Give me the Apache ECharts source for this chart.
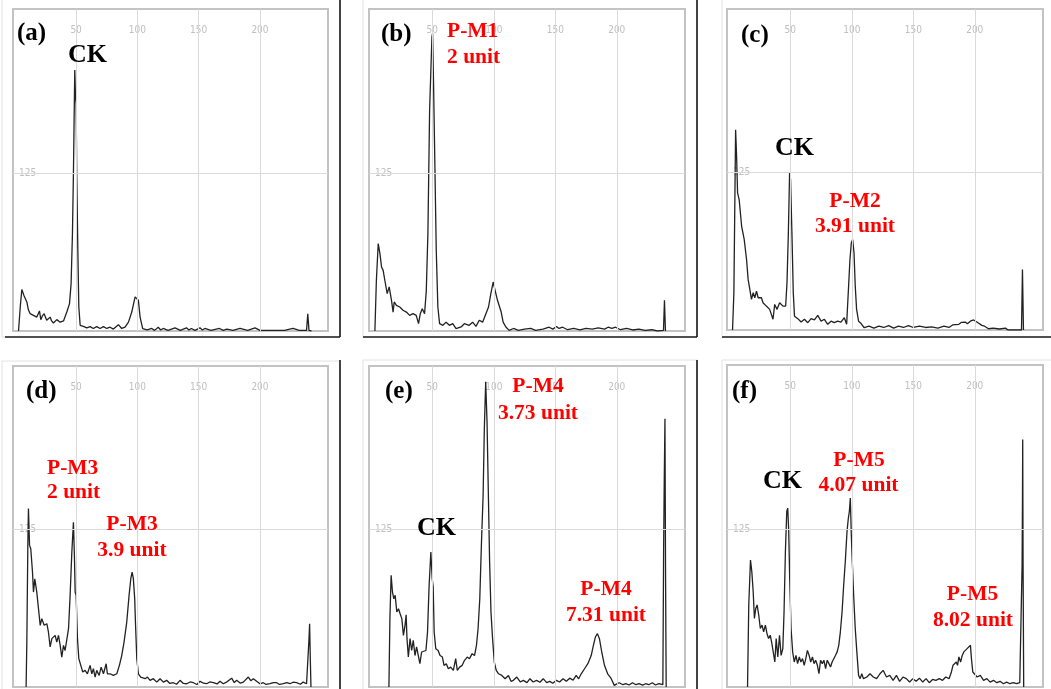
<!DOCTYPE html>
<html>
<head>
<meta charset="utf-8">
<script src="https://cdn.jsdelivr.net/npm/echarts@6/dist/echarts.min.js"></script>
<style>
html,body{margin:0;padding:0;background:#fff;}
#chart{width:1051px;height:689px;}
</style>
</head>
<body>
<div id="chart"></div>
<script>
// ---------- DATA ----------
const xTickLabels = [50, 100, 150, 200];
const yTickLabels = [125];
const panelTags = ['(a)', '(b)', '(c)', '(d)', '(e)', '(f)'];

const traceA = [[3,0],[4.5,20],[5.7,32.8],[7.5,28],[9.8,23],[11,17],[12.5,13.7],[15.2,12.4],[17.9,11],[20.1,15.9],[21.2,9],[22.5,12],[23.9,13.7],[26,8.5],[28.8,11],[30,8],[31.5,6.3],[34.2,9],[37,7],[39.7,8],[42.4,15],[44.6,21.7],[45.9,37.5],[47,77],[47.8,124.7],[48.4,169.6],[48.9,206.6],[49.5,185],[50,180],[50.5,125],[51.4,64],[52.2,19],[53.3,4.5],[56,3.7],[58.7,2.5],[61.4,3.5],[64,2],[66.8,3.5],[69.6,2],[72.3,3.5],[75,2],[77.7,3],[80.4,1.5],[84.5,5],[87.2,2],[89.9,3],[92.7,7],[95.4,15],[98.1,27],[99.5,28.3],[100.8,24.3],[102.2,11],[104.3,1.8],[108,0.8],[111.7,2],[114,0.5],[117,3],[119,0.8],[121,2],[125,0.5],[130.7,2.5],[135,0.5],[140,2.5],[142,0.8],[144,2],[147,0.5],[151,2.5],[153,0.8],[155,2],[160,0.5],[167,2],[170,0.5],[173,1.5],[178,0.5],[183.7,2],[190,0.5],[196,2.5],[200,0.5],[210,0.5],[220,0.5],[227,2],[232,0.5],[238,0.5],[239,13.7],[240,0.5],[242,0]];

const traceB = [[3.3,0],[4.5,40],[6,69.2],[7.4,61.3],[8.7,50.7],[10,48],[11.4,40],[13.3,29.6],[14.9,34.9],[16.8,24.3],[18.1,15],[19,23],[20.8,20.3],[23.5,19],[26.2,16.4],[28.9,15],[31.6,12.4],[34.3,13.7],[36.9,12.4],[38.8,5.8],[40.2,13.7],[41.8,17.7],[43.7,13.7],[45.1,32],[46.4,77],[47.8,175],[48.9,209],[49.7,233],[50.2,235.7],[51,196],[52.1,130],[53.2,64],[54.5,19],[55.9,5.8],[58.6,4.5],[61.2,7],[63.9,4.5],[66.6,5.8],[69.3,1.8],[73.4,3.2],[76,5.8],[80,4.5],[82.8,7],[85.5,3.7],[88.2,8.5],[90.9,7],[93.6,13.7],[95.7,19],[97.6,29.6],[99.5,38.8],[101.1,32],[103,24.3],[104.4,23],[106,15],[107.6,7],[109.8,3.2],[112.5,0.5],[116,2],[120,0.5],[125,1.5],[130,2],[134,0.5],[140,1.5],[145,3],[148,1.5],[151,3.5],[153,2],[156,3],[160,1],[165,2],[170,0.8],[175,2],[180,1.5],[185,2.5],[190,1.5],[193,3],[196,2],[199,3],[203,1],[208,2],[213,0.8],[218,1.5],[223,0.5],[228.6,1],[233,0],[238,0.5],[238.8,24.3],[239.6,0]];

const traceC = [[3,0],[4.1,29.6],[5.5,159],[6.3,138],[7.1,109],[8.4,103.6],[10.4,82.4],[12.5,71.9],[14.4,56],[15.7,40],[17.1,32],[18.4,24.3],[19.8,29.6],[21.1,25.6],[22.5,30.9],[23.8,25.6],[25.2,24.3],[26.5,25.6],[27.8,21.7],[30.5,19],[33.2,16.4],[35.9,8.5],[37.3,20.3],[39.2,16.4],[41.3,21.7],[44,19],[46.2,19],[47.3,37.5],[48.4,77],[49.4,124.7],[50.2,119.4],[51.3,77],[52.4,29.6],[53.4,11],[56.1,9],[58.8,6.3],[61.5,8.5],[64.2,5.8],[66.9,9],[69.6,8],[72.3,11.6],[75,7],[77.7,8.5],[80.4,4.5],[83.1,7],[85.8,5.8],[88.5,7],[91.2,6.3],[93.9,9.8],[95.8,4.5],[97.4,35],[98.5,56],[99.6,69.2],[100.7,71.9],[101.8,61.3],[102.8,35],[103.9,16.4],[105.5,7],[107.4,5.3],[110.1,1.8],[114,3],[118,1.5],[122,3],[126,2],[130,3.5],[134,1.5],[138,3],[142,2],[146,3.5],[150,2],[155,3],[160,2],[165,2.5],[170,1.5],[175,3],[179,2],[182,4],[187,4.5],[189,6],[192.3,6.3],[194,5],[196.4,7],[199,8],[201.7,6.3],[203,7],[205.8,3.7],[208,3],[211.2,1],[215,1.5],[220,0.8],[225,1.5],[227,0],[238,0],[238.8,48],[239.6,0]];

const traceD = [[9.2,0],[9.8,37],[10.6,112.5],[11.1,141.7],[12,112.5],[13,109.8],[14.4,91.3],[15.2,75.4],[16.3,86],[17.9,75.4],[19.3,62.2],[20.7,49],[22,54.3],[23.9,49],[26.1,50.3],[27.4,43.7],[28.8,31.8],[30.2,38.4],[31.5,37],[32.9,41],[34.2,35.7],[35.6,41],[37,33],[38.3,23.8],[39.7,33],[41,29],[42.4,30.4],[43.8,46.3],[45.1,72.8],[46.5,107],[47.8,130.8],[48.6,104.4],[49.2,75.4],[50,72.8],[51.1,38.4],[52.2,22.5],[53.8,17.2],[55.4,11.9],[57.3,13.2],[59.2,10.5],[61.4,17.2],[62.8,10.5],[64.1,14.5],[65.5,7.9],[66.8,13.2],[68.8,9.2],[70.4,15.8],[72.3,10.5],[74.5,18.5],[75.5,10.5],[77.7,10.5],[80.4,9.2],[83.2,10.5],[85.3,17.2],[87.2,25],[89.1,35.7],[91.3,51.6],[93.2,72.8],[94.6,86],[95.7,91.3],[96.7,86],[97.8,70],[98.4,51.6],[99.5,22.5],[100.8,10.5],[102.7,7.9],[104.3,9.2],[106.3,6.6],[108.2,7.9],[110.3,5.3],[113,6.6],[115.8,3.9],[118.5,6.6],[121.2,3.9],[123.9,5.3],[126.5,2.8],[129.3,3.4],[132,2.2],[134.8,5.3],[137.5,2.8],[140.2,2.6],[143,4],[145.7,3.4],[148.5,2],[151.1,4.5],[154,3],[156.5,2.6],[159,4],[162,3.4],[165,2.4],[167.4,4.5],[170,2.6],[172.8,3.9],[176.9,7],[179,3.5],[181,5.3],[184,3],[186.4,3.9],[190.5,7.9],[192.5,5],[194.6,6.6],[197.3,4.5],[200,2.5],[202.7,3.4],[205,2],[208.2,2.6],[211,3.5],[213.6,3.4],[216,2],[219,2.6],[222,3.4],[224.5,2.6],[227,3.8],[229.9,3.4],[233,2.2],[235.3,3.9],[238,2.6],[239.4,1.3],[240,38.4],[240.5,50.3],[241,25],[241.6,0]];

const traceE = [[14.7,0],[15.5,54.3],[16.5,88.7],[17.6,75.4],[18.7,70],[19.8,72.8],[21.1,59.6],[22.5,62.2],[23.8,58.2],[25.2,54.3],[26.5,41],[27.8,49],[28.7,57.4],[29.4,38.4],[30.5,23.8],[31.9,38.4],[33.2,29],[34.5,37],[35.9,25],[37.2,31.8],[38.6,25],[39.9,18.5],[41.3,27.8],[42.9,27.8],[44.8,29],[46.1,43.7],[47.4,80.8],[48.8,107.3],[49.9,86],[50.7,79.5],[51.5,43.7],[52.8,30.4],[54.7,29],[56.3,25],[58.2,23.8],[59.5,17.2],[61.4,18.5],[63,14.5],[64.9,15.8],[67.1,13.2],[69,22.5],[70.3,13.2],[72.2,15.8],[74.3,17.2],[76.2,21.2],[78.4,23.8],[80.2,22.5],[82.4,26.5],[84.3,25],[85.9,33],[87.2,46.3],[88.6,70],[89.9,112.5],[91.3,152.2],[92.3,205],[93.4,242.4],[94.5,210.6],[95.6,152.2],[96.6,99.2],[97.7,59.6],[99,38.4],[100.4,19.8],[102,13.2],[103.9,10.5],[106.5,9.2],[109.2,6.6],[111.9,9.2],[114,4.5],[115.9,5.3],[118.7,7.9],[121.5,4],[124,5.3],[127,3.5],[129.4,6.6],[132,4],[134.8,5.3],[137.5,3.8],[140.2,6.6],[143,3.5],[145.5,4.5],[148,3],[150.9,5.3],[153.5,4],[156.3,6.6],[159,4.5],[161.7,7],[164.5,5.5],[167,9.2],[169,6.5],[171.1,10.5],[173.8,14.5],[176.5,18.5],[179.2,25],[181,33],[182.6,39.7],[184.3,42.4],[185.9,38.4],[187.8,27.8],[190,17.2],[192.6,10.5],[195.3,7],[198,1.3],[200,2.5],[202,3.4],[205,1.8],[207.4,2.6],[210,1.6],[212.8,3.4],[215.5,1.8],[218.1,2.6],[221,1.5],[223.5,2.6],[226,1.8],[228.9,3.4],[231.5,1.6],[234.3,2.6],[237.5,1.8],[238.1,107.3],[238.6,160.3],[239.2,213],[239.7,86],[240.2,0]];

const traceF = [[15.2,0],[16.2,65],[17.6,100.6],[18.7,91.3],[19.8,75.4],[20.8,54.3],[21.9,62.2],[23,65],[24.3,57],[25.6,46.3],[27,49],[28.3,43.7],[29.7,49],[31,42.4],[32.3,38.4],[33.7,41],[35,34.4],[36.4,33],[37.4,19.8],[38.5,38.4],[39.8,23.8],[41.2,41],[42.5,25],[43.9,30.4],[44.9,59.6],[46,107.3],[47.1,139],[47.9,141.7],[48.7,123.2],[49.5,86],[50.6,46.3],[51.9,27.8],[53.2,19.8],[54.6,25],[55.9,18.5],[57.3,23.8],[58.6,19.8],[59.9,22.5],[61.3,17.2],[62.6,22.5],[63.9,29],[65.3,25],[66.6,19.8],[68,23.8],[69.3,18.5],[70.6,21.2],[72,17.2],[73.3,10.5],[74.6,21.2],[76,18.5],[77.3,21.2],[78.7,14.5],[80,21.2],[81.4,18.5],[82.7,15.8],[84,19.8],[85.4,21.2],[86.7,25],[88.1,27.8],[89.4,33],[90.7,43.7],[92.1,59.6],[93.4,80.8],[94.7,99.2],[96.1,123],[97.2,133.8],[98,139],[98.8,149.6],[99.6,120.5],[100.4,99.2],[101.5,72.8],[102.8,46.3],[104.1,27.8],[105.5,9.2],[106.8,6.6],[108.1,10.5],[109.5,6.6],[112.2,7.9],[114.8,10.5],[117.5,7.9],[120.2,6.6],[122.9,10.5],[125.5,13.2],[128.2,7.9],[130.9,9.2],[133.6,5.3],[136.3,9.2],[138.9,4.5],[141.6,7.9],[144.3,6.6],[147,3.9],[149.7,6.6],[152.3,4.5],[155,7],[157.7,3.9],[160.4,6.6],[163,3.4],[165.7,6],[168.4,5.3],[171.1,6.6],[173.8,5.3],[176.4,7.9],[179.1,6.6],[181,11.9],[182.3,17.2],[183.9,18.5],[185,19.8],[186,17.2],[187.1,23.8],[188.5,19.8],[189.8,25],[191.1,27.8],[192.5,26.5],[193.8,30.4],[195.2,29],[196.5,33],[197.3,22.5],[198.4,11.9],[200,13.2],[201.9,7.9],[204.5,9.2],[207.2,5.3],[209.9,6.6],[212.5,3.9],[215.2,5.3],[217.9,3.4],[220.6,4.5],[223.3,2.6],[225.9,3.9],[228.6,2.6],[231.3,3.4],[234,2.6],[236.6,3.4],[238,2.6],[238.5,96.6],[238.8,146.6],[239,196],[239.3,96.6],[239.8,0]];

const traces = [traceA, traceB, traceC, traceD, traceE, traceF];

// annotation texts per panel: [panelIndex, text, colorKey]
const annotations = [
  [0, 'CK', 'black'],
  [1, 'P-M1', 'red'], [1, '2 unit', 'red'],
  [2, 'CK', 'black'], [2, 'P-M2', 'red'], [2, '3.91 unit', 'red'],
  [3, 'P-M3', 'red'], [3, '2 unit', 'red'], [3, 'P-M3', 'red'], [3, '3.9 unit', 'red'],
  [4, 'P-M4', 'red'], [4, '3.73 unit', 'red'], [4, 'CK', 'black'], [4, 'P-M4', 'red'], [4, '7.31 unit', 'red'],
  [5, 'CK', 'black'], [5, 'P-M5', 'red'], [5, '4.07 unit', 'red'], [5, 'P-M5', 'red'], [5, '8.02 unit', 'red']
];

// ---------- LAYOUT (positions / styles) ----------
const gridRects = [
  {left: 13,  top: 9,   width: 315, height: 322},
  {left: 369, top: 9,   width: 316, height: 322},
  {left: 727, top: 9,   width: 316, height: 321},
  {left: 13,  top: 366, width: 315, height: 321},
  {left: 369, top: 366, width: 316, height: 321},
  {left: 727, top: 365, width: 316, height: 322}
];
const tagPos = [[17,34],[381,35],[741,36],[26,392],[385,392],[732,392]];
// [x, y, align] for each annotation, same order as annotations
const annPos = [
  [68,55,'left'],
  [447,31,'left'],[447,57.5,'left'],
  [775,148.5,'left'],[855,201.5,'center'],[855,226.5,'center'],
  [47,468.5,'left'],[47,492.5,'left'],[132,524,'center'],[132,550.5,'center'],
  [538,386.5,'center'],[538,413.5,'center'],[417,528,'left'],[606,589,'center'],[606,615.5,'center'],
  [763,481.5,'left'],[859,460.5,'center'],[858.5,485.5,'center'],[972.5,594.5,'center'],[973,620.5,'center']
];
const outerRects = [[2,-2,338,339],[363,-2,334,339],[722,-2,340,339],[2,361,338,340],[363,360,334,340],[722,360,340,340]];
const darkLines = [[340,0,340,337],[5,337,340,337],[697,0,697,337],[363,337,697,337],[722,337,1051,337],[340,360,340,689],[697,360,697,689]];

const serif = '"Liberation Serif", "Times New Roman", serif';
const narrow = '"Liberation Sans Narrow", "DejaVu Sans Condensed", "Roboto Condensed", sans-serif';
const colorMap = {black: '#000000', red: '#ff0000'};

const chart = echarts.init(document.getElementById('chart'), null, {renderer: 'canvas'});

const grid = [], xAxis = [], yAxis = [], series = [];
gridRects.forEach((g, i) => {
  grid.push(Object.assign({show: true, borderColor: '#c3c3c3', borderWidth: 2, backgroundColor: '#ffffff'}, g));
  xAxis.push({
    gridIndex: i, type: 'value', position: 'top', min: -1.5, max: 255.5,
    axisLine: {show: false}, axisTick: {show: false}, splitLine: {show: false},
    axisLabel: {show: true, inside: true, customValues: xTickLabels, margin: 16,
      color: '#bfbfbf', fontSize: 10, fontFamily: narrow}
  });
  yAxis.push({
    gridIndex: i, type: 'value', min: 0, max: 255,
    axisLine: {show: false}, splitLine: {show: false},
    axisTick: {show: true, inside: true, customValues: yTickLabels, length: 4, lineStyle: {color: '#c3c3c3'}},
    axisLabel: {show: true, inside: true, customValues: yTickLabels, margin: 6,
      color: '#bfbfbf', fontSize: 10, fontFamily: narrow}
  });
  // grid lines drawn as markLines under the trace
  series.push({
    type: 'line', xAxisIndex: i, yAxisIndex: i, data: traces[i], z: 1,
    showSymbol: false, symbol: 'none', lineStyle: {opacity: 0}, silent: true, animation: false,
    markLine: {
      silent: true, symbol: ['none', 'none'], animation: false,
      label: {show: false},
      lineStyle: {color: '#dadada', width: 1, type: 'solid'},
      data: xTickLabels.map(v => ({xAxis: v})).concat(yTickLabels.map(v => ({yAxis: v})))
    }
  });
  series.push({
    type: 'line', xAxisIndex: i, yAxisIndex: i, data: traces[i], z: 3,
    showSymbol: false, symbol: 'none', smooth: false, animation: false,
    lineStyle: {color: '#222222', width: 1.3}
  });
});

const graphic = [];
outerRects.forEach(r => graphic.push({type: 'rect', silent: true, z: -10,
  shape: {x: r[0], y: r[1], width: r[2], height: r[3]}, style: {fill: 'none', stroke: '#e2e2e2', lineWidth: 1}}));
darkLines.forEach(l => graphic.push({type: 'line', silent: true, z: 5,
  shape: {x1: l[0], y1: l[1], x2: l[2], y2: l[3]}, style: {stroke: '#1a1a1a', lineWidth: 1.6}}));
panelTags.forEach((t, i) => graphic.push({type: 'text', silent: true, z: 10,
  style: {text: t, x: tagPos[i][0], y: tagPos[i][1], fill: '#000', fontSize: 25, fontWeight: 'bold',
    fontFamily: serif, textAlign: 'left', textVerticalAlign: 'middle'}}));
annotations.forEach((a, k) => {
  const big = a[1] === 'CK';
  graphic.push({type: 'text', silent: true, z: 10,
    style: {text: a[1], x: annPos[k][0], y: annPos[k][1], fill: colorMap[a[2]],
      fontSize: big ? 26 : 21.5, fontWeight: 'bold', fontFamily: serif,
      textAlign: annPos[k][2], textVerticalAlign: 'middle'}});
});

chart.setOption({
  animation: false,
  backgroundColor: '#ffffff',
  grid, xAxis, yAxis, series, graphic
});
</script>
</body>
</html>
